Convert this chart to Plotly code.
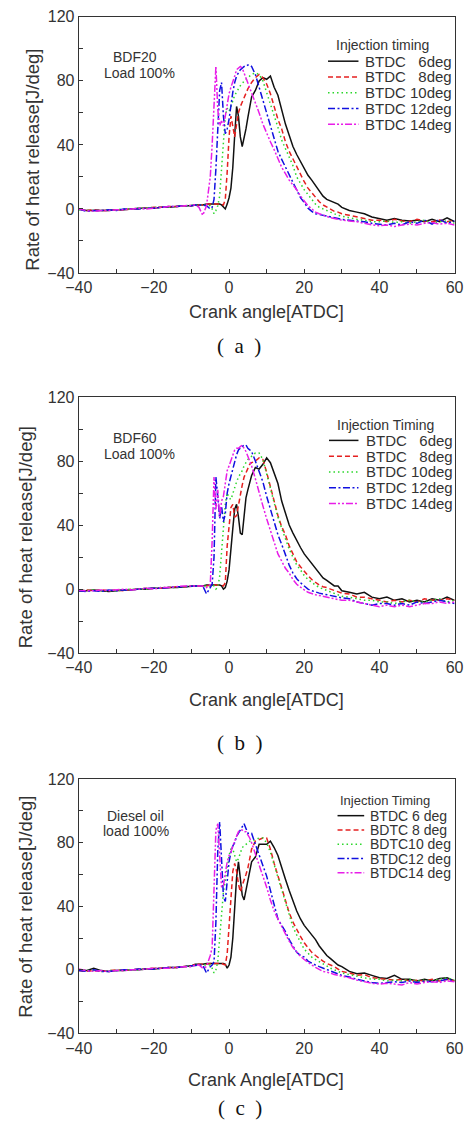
import plotly.graph_objects as go

# ---------------- data ----------------
CA = [-40, -38, -36, -34, -32, -30, -28, -26, -24, -22, -20, -18, -16, -14, -12, -10,
      -9, -8, -7, -6, -5,
      -4.5, -4, -3.5, -3, -2.5, -2, -1.5, -1, -0.5, 0, 0.5, 1, 1.5, 2, 2.5, 3, 3.5, 4, 4.5, 5, 5.5, 6,
      7, 8, 9, 10, 11, 12, 13, 14, 15, 16, 17, 18, 19, 20, 21, 22, 23, 24, 25, 26, 27, 28, 29, 30,
      32, 34, 36, 38, 40, 42, 44, 46, 48, 50, 52, 54, 56, 58, 60]

# (a) BDF20, load 100%
A_6 = [0, -1, -1, -1, -1, -0.5, -0.5, 0, 0.5, 0.5, 0.5, 1, 1, 1.5, 2, 2,
       2.5, 2.5, 2.5, 3, 3,
       3, 3, 3, 3, 3, 2.5, 1, 0, 3, 7, 13, 26, 46, 64, 58, 45, 39, 44, 50, 57, 64, 70,
       74, 80, 82, 81, 83, 76, 71, 62, 53, 46, 39, 34, 29.5, 25.5, 21, 18, 14.5, 11.5, 8, 6, 5, 4, 3, 1,
       -1, -2, -3, -5, -6, -7, -6, -7, -7.5, -7, -8, -6.5, -8, -5.5, -8]
A_8 = [0, -1, -0.5, -1, -1, -0.5, -0.5, 0, 0, 0.5, 1, 1, 1.5, 1.5, 2, 2,
       2.5, 2.5, 2.5, 3, 3,
       3, 3, 3, 3, 3, 3, 2.5, 6, 23, 45, 58, 52, 45, 53, 60, 64, 67, 70, 73, 75, 77, 79,
       82, 84, 82, 78, 72, 64, 56, 50, 42, 36, 31, 26, 21, 17, 13, 10, 7, 4.5, 2.5, 1, 0, -1.5, -2, -3,
       -4, -5, -6, -7, -7, -8, -6.5, -7.5, -8, -6.5, -7.5, -8, -7, -8, -7]
A_10 = [-0.5, -1, -1, -1, -0.5, -0.5, 0, 0, 0.5, 0.5, 1, 1, 1, 1.5, 2, 2.5,
        2.5, 2.5, 2.5, 2.5, 2,
        0, -3, -1, 2, 8, 25, 45, 58, 63, 61, 64, 68, 71, 73, 75, 77, 78, 80, 81, 82, 83, 84,
        85, 84, 80, 73, 66, 58, 51, 43, 38, 32, 27, 20, 16, 12, 9, 6, 3, 1, 0, -1.5, -2.5, -3.5, -4, -4.5,
        -5.5, -6.5, -7, -8, -8, -7.5, -8.5, -8, -9, -8, -7, -9, -8, -7.5, -9]
A_12 = [0, -1.5, -1, -1, -0.5, -1, 0, 0, 0, 0.5, 0.5, 1, 1.5, 1.5, 2, 2,
        2.5, 2.5, 2.5, 2, 0,
        1, 6, 25, 52, 74, 79, 58, 47, 50, 56, 65, 73, 79, 83, 85, 87, 88, 89, 89, 90, 90, 89,
        84, 76, 68, 60, 51, 43, 36, 31, 26, 21, 16, 11, 7, 4, 0.5, -1.5, -3, -3.5, -4, -4.5, -5, -5.5, -6, -6.5,
        -7, -7.5, -8, -9, -9.5, -10, -9, -10, -8, -9, -7, -9.5, -6.5, -9, -7.5]
A_14 = [0, -1, -1.5, -1, -1, -0.5, -0.5, 0, 0.5, 0, 0.5, 1, 1.5, 1.5, 2, 2.5,
        2.5, 1, -4, 2, 20,
        40, 64, 89, 62, 52, 55, 52, 58, 66, 72, 76, 79, 83, 87, 88, 89, 88, 85, 82, 79, 76, 72,
        66, 60, 53, 47, 42, 37, 31, 26, 22, 18, 15, 12, 8, 5, 2, 0, -2, -3, -4, -5, -5.5, -6, -6.5, -7,
        -7.5, -8, -9, -10, -10.5, -10, -11, -10, -9.5, -10, -9, -8.5, -9.5, -9, -10]

# (b) BDF60, load 100%
B_6 = [-1, -1, -0.5, -1, -1.5, -1, -0.5, -0.5, 0, 0, 0.5, 0.5, 1, 1, 1.5, 2,
       2, 2, 2, 2.5, 2.5,
       2.5, 2.5, 2.5, 2.5, 2.5, 2, 0, 1, 5, 12, 23, 38, 50, 53, 45, 35, 34, 47, 57, 62, 66, 71,
       76, 75, 78, 82, 79, 73, 66, 55, 47, 40, 35, 30, 26, 22, 19, 16, 13, 10, 7, 5.5, 3.5, 2, 2, -1,
       -2, -3, -2, -5, -6, -5, -7, -6, -8, -7, -8, -6, -7, -5, -7]
B_8 = [-1, -0.5, -1, -0.5, -1, -0.5, -1, 0, 0, 0.5, 0.5, 0.5, 1, 1.5, 1.5, 2,
       2, 2, 2, 2, 2.5,
       2.5, 2.5, 2.5, 2.5, 2.5, 2.5, 2, 4, 27, 41, 51, 53, 45, 46, 53, 60, 65, 70, 73, 76, 78, 79,
       80, 82, 81, 73, 64, 54, 46, 39, 34, 27, 22, 17, 14, 11, 8.5, 6, 4, 2.5, 1.5, 1, 0, -1, -2, -2.5,
       -3, -5, -5, -6, -7, -8, -7, -8, -7, -8, -6, -7, -7, -6, -7]
B_10 = [-0.5, -1, -0.5, -1, -1, -1, -0.5, 0, 0, 0, 0.5, 1, 1, 1, 1.5, 2,
        2, 2, 2, 2, 2,
        2.5, 2, 0, 1, 8, 25, 42, 53, 60, 57, 56, 60, 64, 67, 70, 72, 74, 77, 79, 81, 82, 83,
        85, 85, 81, 72, 63, 54, 45, 38, 31, 25, 20, 15, 12, 8.5, 6, 4, 2.5, 1, 0, -1, -2, -3, -4, -4.5,
        -5, -6, -7, -7, -8, -8, -9, -8, -7, -8, -8, -7, -6, -8, -7]
B_12 = [-1, -1.5, -1, -1.5, -0.5, -1, -0.5, -0.5, 0, 0.5, 0.5, 0.5, 1, 1.5, 1.5, 2,
        2, 2, 2, -3, 1,
        3, 20, 70, 58, 44, 52, 42, 47, 60, 66, 71, 74, 79, 84, 87, 88, 89, 90, 90, 88, 87, 86,
        80, 74, 67, 58, 50, 42, 34, 28, 21, 15, 10, 6.5, 4, 2, 0, -1, -2, -2.5, -3, -3.5, -4, -4.5, -5, -5.5,
        -6, -8, -9, -10, -9, -9, -10, -9, -10, -8, -9, -8, -7, -8, -9]
B_14 = [-0.5, -1, -1, -0.5, -1, -0.5, 0, -0.5, 0, 0.5, 0, 1, 1, 1.5, 2, 2,
        2, 2, 2, 1, 3,
        30, 70, 50, 62, 45, 55, 58, 68, 74, 77, 80, 84, 87, 88, 88, 89, 90, 88, 86, 83, 80, 77,
        69, 60, 52, 44, 37, 29, 22, 17.5, 13, 10, 6, 3, 1, -0.5, -2, -3, -3.5, -4, -4.5, -5, -5.5, -6, -6.5, -7,
        -7, -8, -9, -10, -11, -10, -11, -10, -11, -10, -9, -9, -8, -9, -8]

# (c) Diesel oil, load 100%
C_6 = [0, -0.5, 1, -0.5, -1, -0.5, -0.5, 0, 0, 0.5, 0.5, 1, 1.5, 1.5, 2, 2.5,
       3.5, 3.5, 3.5, 4, 4,
       4, 4, 4, 4, 4, 4, 4, 3.5, 1, 3, 8, 20, 40, 58, 68, 56, 47, 44, 51, 56, 62, 68,
       71, 79, 79, 79, 81, 77, 72, 64, 57, 50, 43, 37, 32, 28, 25, 22, 19, 15, 12, 9, 7, 5, 3, 2,
       -1, -2.5, -2, -3.5, -5, -5.5, -3.5, -6, -6, -7, -6, -7, -5.5, -5, -7]
C_8 = [-0.5, -1, -0.5, -1, -0.5, 0, -0.5, 0, 0.5, 0.5, 1, 1, 1.5, 1.5, 2, 2.5,
       3.5, 3.5, 3.5, 3.5, 4,
       4, 4, 4, 4, 4, 4, 3.5, 3, 10, 28, 49, 62, 67, 62, 54, 49, 53, 56, 60, 64, 70, 76,
       81, 82, 83, 83, 76, 67, 59, 52, 44, 36, 30, 25, 21, 17, 14, 11, 9, 7, 5.5, 4, 3, 2, 0.5, -1,
       -2, -3.5, -3, -5, -5.5, -6, -6.5, -6, -7, -6.5, -7, -6, -7, -6, -7]
C_10 = [0, -0.5, -0.5, -1, -0.5, -0.5, 0, 0, 0, 0.5, 1, 1, 1, 1.5, 2, 2.5,
        3, 3, 3, 3, 3,
        1, -2, 0, 5, 20, 37, 49, 56, 65, 72, 76, 76, 72, 68, 70, 74, 77, 78, 79, 80, 81, 81,
        82, 83, 83, 80, 74, 66, 58, 50, 42, 34, 27, 22, 17, 13, 10.5, 8, 6.5, 5, 3.5, 2, 1, 0, -1, -2,
        -3, -4, -5, -6, -6, -7, -6.5, -7, -6, -7, -6.5, -7, -6, -5, -6.5]
C_12 = [-0.5, -1, 0, -1, -1, -0.5, 0, 0, 0.5, 0.5, 0.5, 1, 1.5, 1.5, 2, 2.5,
        3, 3, 3, -2, 2,
        3, 5, 30, 75, 93, 70, 46, 43, 58, 68, 74, 78, 80, 84, 86, 88, 90, 92, 89, 86, 86, 86,
        79, 72, 66, 59, 50, 40, 32, 28, 24, 19, 14.5, 11, 9, 8, 5.5, 4, 3, 2, 1, 0, -1, -2, -3, -3.5,
        -4.5, -6, -7, -8, -8.5, -8, -7.5, -8, -7, -8, -7, -7.5, -7, -6, -7]
C_14 = [0.5, -0.5, -1, -0.5, -1, -0.5, -0.5, 0, 0, 0.5, 1, 1, 1, 1.5, 2, 2,
        3, 3, 1, 2, 9,
        14, 50, 88, 92, 75, 52, 53, 60, 68, 72, 74, 78, 81, 85, 87, 88, 88, 87, 87, 85, 83, 80,
        73, 66, 60, 52, 44, 37, 32, 27, 22, 18, 14, 11, 8.5, 6.5, 4.5, 3, 1.5, 0, -1, -1.5, -2, -3, -3.5, -4,
        -5, -6.5, -7.5, -8.5, -9, -8.5, -9, -9.5, -8, -9, -8, -7.5, -8, -7, -7.5]

SERIES = [[A_6, A_8, A_10, A_12, A_14],
          [B_6, B_8, B_10, B_12, B_14],
          [C_6, C_8, C_10, C_12, C_14]]
for group in SERIES:
    for s in group:
        assert len(s) == len(CA), len(s)

NOTES = [("BDF20", "Load 100%"), ("BDF60", "Load 100%"), ("Diesel oil", "load 100%")]
LEGEND_TITLES = ["Injection timing", "Injection Timing", "Injection Timing"]
LEGEND_LABELS = [
    ["BTDC\u00a0\u00a0 6deg", "BTDC\u00a0\u00a0 8deg", "BTDC 10deg", "BTDC 12deg", "BTDC 14deg"],
    ["BTDC\u00a0\u00a0 6deg", "BTDC\u00a0\u00a0 8deg", "BTDC 10deg", "BTDC 12deg", "BTDC 14deg"],
    ["BTDC 6 deg", "BDTC 8 deg", "BDTC10 deg", "BTDC12 deg", "BTDC14 deg"],
]
X_TITLES = ["Crank angle[ATDC]", "Crank angle[ATDC]", "Crank Angle[ATDC]"]
Y_TITLE = "Rate of heat release[J/deg]"
CAPTIONS = ["(\u00a0\u00a0a\u00a0\u00a0)", "(\u00a0\u00a0b\u00a0\u00a0)", "(\u00a0\u00a0c\u00a0\u00a0)"]
Y_TICKS = [-40, -20, 0, 20, 40, 60, 80, 100, 120]
Y_TICK_TEXT = ["\u221240", "", "0", "", "40", "", "80", "", "120"]
X_TICKS = [-40, -30, -20, -10, 0, 10, 20, 30, 40, 50, 60]
X_TICK_TEXT = ["\u221240", "", "\u221220", "", "0", "", "20", "", "40", "", "60"]

# ---------------- styles / layout ----------------
W, H = 475, 1130
COLORS = ["#111111", "#e52020", "#2ad62a", "#1010e0", "#e81ee8"]
DASHES = ["solid", "5px,3px", "1.5px,3px", "7px,2.5px,2px,2.5px", "7px,2px,2px,2px,2px,2px"]
SANS = "Liberation Sans, Arial, sans-serif"
SERIF = "Liberation Serif, Times New Roman, serif"
TXT = "#333333"

PANELS = [
    dict(top=9, bot=269, ytitle=(20, 154), xtitle=(265, 309), cap=(236, 343),
         notes=[(127, 50), (132, 66)], ltitle=(387, 38, 14), lrows=[54, 70, 86, 102, 118],
         lsample=(330, 362), ltext=367, lsize=15),
    dict(top=395, bot=655, ytitle=(13, 537), xtitle=(265, 703), cap=(237, 746),
         notes=[(127, 437), (132, 453)], ltitle=(390, 423, 14), lrows=[439, 455, 471, 487, 503],
         lsample=(331, 362), ltext=368, lsize=15),
    dict(top=783, bot=1041, ytitle=(12, 912), xtitle=(265, 1088), cap=(237, 1117),
         notes=[(128, 820), (128, 836)], ltitle=(390, 805, 13), lrows=[820, 834.5, 849, 863.5, 878],
         lsample=(340, 368), ltext=372, lsize=14),
]
PX_L, PX_R = 68, 463


def fx(p):
    return p / W


def fy(p):
    return 1 - p / H


fig = go.Figure()
annotations = []
shapes = []
layout = dict(width=W, height=H, margin=dict(l=0, r=0, t=0, b=0),
              paper_bgcolor="white", plot_bgcolor="white", showlegend=False,
              font=dict(family=SANS, color=TXT))

for i, (panel, group) in enumerate(zip(PANELS, SERIES)):
    k = "" if i == 0 else str(i + 1)
    for j, ys in enumerate(group):
        fig.add_trace(go.Scatter(x=CA, y=ys, mode="lines", xaxis="x" + k, yaxis="y" + k,
                                 line=dict(color=COLORS[j], width=1.5, dash=DASHES[j]),
                                 name=LEGEND_LABELS[i][j], showlegend=False))
    layout["xaxis" + k] = dict(domain=[fx(PX_L), fx(PX_R)], anchor="y" + k, range=[-40, 60],
                               tickmode="array", tickvals=X_TICKS, ticktext=X_TICK_TEXT,
                               ticks="inside", ticklen=4, tickcolor="#333", tickwidth=1,
                               showline=True, mirror=True, linecolor="#333", linewidth=1,
                               showgrid=False, zeroline=False,
                               tickfont=dict(size=16, color=TXT, family=SANS))
    layout["yaxis" + k] = dict(domain=[fy(panel["bot"]), fy(panel["top"])], anchor="x" + k,
                               range=[-40, 120], tickmode="array", tickvals=Y_TICKS,
                               ticktext=Y_TICK_TEXT, ticks="inside", ticklen=4, tickcolor="#333",
                               tickwidth=1, showline=True, mirror=True, linecolor="#333",
                               linewidth=1, showgrid=False, zeroline=False,
                               tickfont=dict(size=16, color=TXT, family=SANS))
    # axis titles
    annotations.append(dict(text=Y_TITLE, x=fx(panel["ytitle"][0]), y=fy(panel["ytitle"][1]),
                            xref="paper", yref="paper", showarrow=False, textangle=-90,
                            xanchor="center", yanchor="middle",
                            font=dict(size=18.5, color=TXT, family=SANS)))
    annotations.append(dict(text=X_TITLES[i], x=fx(panel["xtitle"][0]), y=fy(panel["xtitle"][1]),
                            xref="paper", yref="paper", showarrow=False,
                            xanchor="center", yanchor="middle",
                            font=dict(size=18, color=TXT, family=SANS)))
    annotations.append(dict(text=CAPTIONS[i], x=fx(panel["cap"][0]), y=fy(panel["cap"][1]),
                            xref="paper", yref="paper", showarrow=False,
                            xanchor="center", yanchor="middle",
                            font=dict(size=21, color="#111", family=SERIF)))
    # notes
    for (nx, ny), text in zip(panel["notes"], NOTES[i]):
        annotations.append(dict(text=text, x=fx(nx), y=fy(ny), xref="paper", yref="paper",
                                showarrow=False, xanchor="center", yanchor="middle",
                                font=dict(size=14, color=TXT, family=SANS)))
    # legend
    tx, ty, ts = panel["ltitle"]
    annotations.append(dict(text=LEGEND_TITLES[i], x=fx(tx), y=fy(ty), xref="paper", yref="paper",
                            showarrow=False, xanchor="center", yanchor="middle",
                            font=dict(size=ts, color=TXT, family=SANS)))
    for j, ry in enumerate(panel["lrows"]):
        x0, x1 = panel["lsample"]
        shapes.append(dict(type="line", xref="paper", yref="paper", x0=fx(x0), x1=fx(x1),
                           y0=fy(ry), y1=fy(ry),
                           line=dict(color=COLORS[j], width=1.5, dash=DASHES[j])))
        annotations.append(dict(text=LEGEND_LABELS[i][j], x=fx(panel["ltext"]), y=fy(ry),
                                xref="paper", yref="paper", showarrow=False,
                                xanchor="left", yanchor="middle",
                                font=dict(size=panel["lsize"], color=TXT, family=SANS)))

layout["annotations"] = annotations
layout["shapes"] = shapes
fig.update_layout(**layout)
fig.write_html("out.html")
